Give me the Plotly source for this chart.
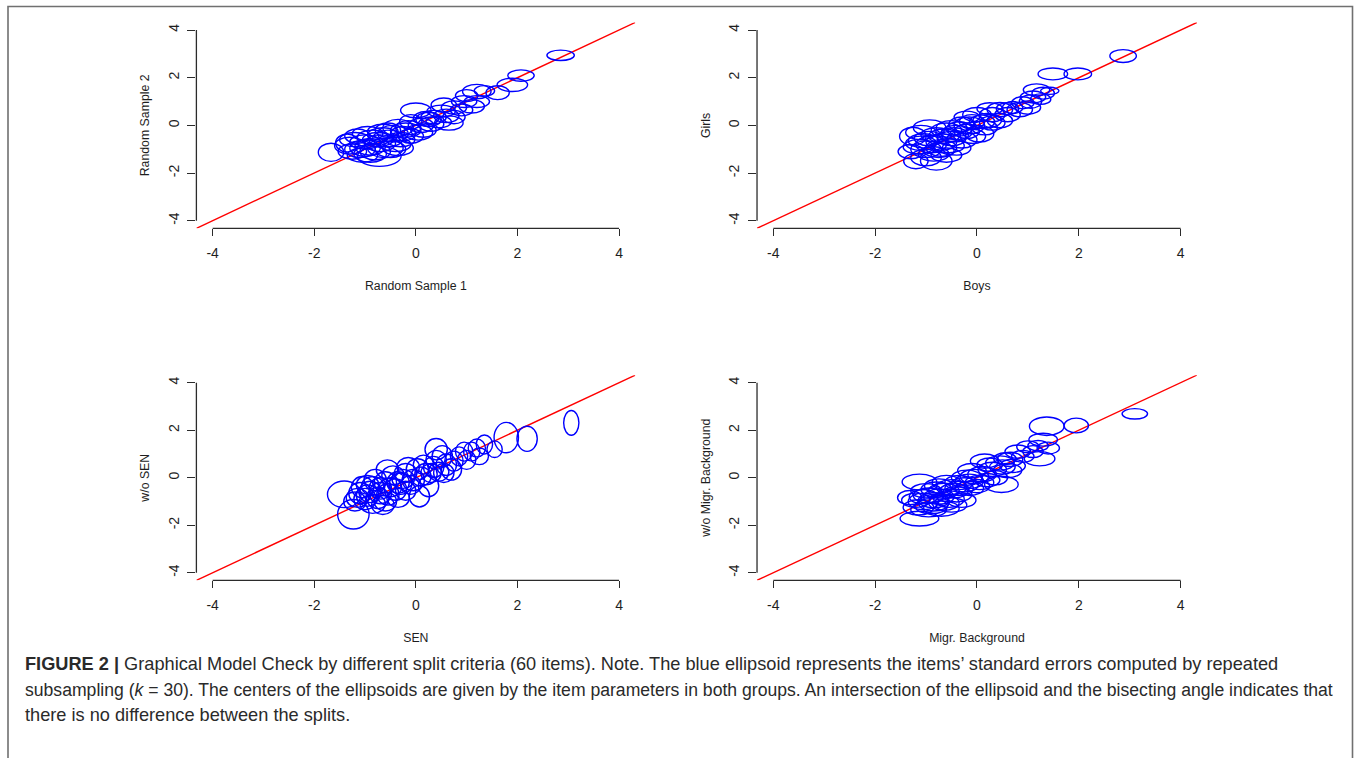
import plotly.graph_objects as go

# ---------------- data ----------------
TICKS = [-4, -2, 0, 2, 4]
AXIS_LIMITS = [-4, 4]          # xlim / ylim of every panel
X_TITLES = ["Random Sample 1", "Boys", "SEN", "Migr. Background"]
Y_TITLES = ["Random Sample 2", "Girls", "w/o SEN", "w/o Migr. Background"]

# Panel 1: Random Sample 1 vs Random Sample 2 (centre x, centre y, half-width, half-height)
P1_CX = [2.85, 2.07, 1.90, 1.61, 1.35, 1.20, 1.00, 0.95, 1.20, 0.75, 0.90, 0.55, 0.50, 0.60, 0.75,
         0.45, 0.00, 0.25, 0.10, -0.10, 0.15, -0.20, -0.35, -0.10, -0.45, -0.55, -0.30, -0.65, -0.70, -0.85,
         -0.90, -1.00, -1.10, -1.20, -1.30, -1.35, -1.67, -0.72, -1.05, -0.50, -0.40, -0.60, -0.80, -0.95, -0.25,
         0.05, 0.30, -0.75, -1.15, -0.55, -0.15, 0.35, -0.90, -1.25, -0.35, -0.65, 0.20, 1.10, -1.00, 0.65]
P1_CY = [2.94, 2.09, 1.70, 1.37, 1.45, 1.42, 1.25, 1.00, 1.00, 0.75, 0.65, 0.85, 0.60, 0.40, 0.35,
         0.15, 0.63, 0.25, 0.00, 0.15, -0.20, -0.20, -0.10, -0.45, -0.35, -0.55, -0.60, -0.25, -0.75, -0.50,
         -0.90, -0.70, -1.00, -0.60, -0.85, -0.74, -1.13, -1.30, -1.25, -1.00, -0.80, -0.95, -1.10, -0.35, -0.35,
         -0.30, 0.05, -0.60, -0.45, -0.20, -0.10, 0.35, -1.20, -1.10, -0.95, -0.40, 0.30, 0.80, -0.95, 0.10]
P1_RX = [0.27, 0.26, 0.30, 0.23, 0.20, 0.28, 0.22, 0.25, 0.25, 0.25, 0.22, 0.25, 0.28, 0.25, 0.22,
         0.25, 0.30, 0.25, 0.25, 0.22, 0.25, 0.30, 0.30, 0.25, 0.30, 0.30, 0.28, 0.30, 0.30, 0.30,
         0.30, 0.30, 0.30, 0.30, 0.30, 0.23, 0.25, 0.43, 0.30, 0.30, 0.30, 0.35, 0.30, 0.30, 0.25,
         0.28, 0.25, 0.30, 0.25, 0.25, 0.25, 0.25, 0.32, 0.28, 0.30, 0.30, 0.25, 0.25, 0.30, 0.28]
P1_RY = [0.22, 0.24, 0.28, 0.29, 0.22, 0.30, 0.25, 0.25, 0.25, 0.28, 0.25, 0.30, 0.25, 0.28, 0.28,
         0.25, 0.31, 0.30, 0.30, 0.30, 0.30, 0.30, 0.35, 0.30, 0.35, 0.35, 0.30, 0.30, 0.35, 0.30,
         0.35, 0.30, 0.35, 0.30, 0.35, 0.38, 0.38, 0.42, 0.30, 0.35, 0.30, 0.40, 0.35, 0.30, 0.30,
         0.32, 0.30, 0.30, 0.30, 0.30, 0.30, 0.28, 0.35, 0.32, 0.32, 0.30, 0.28, 0.28, 0.35, 0.30]

# Panel 2: Boys vs Girls
P2_CX = [2.87, 1.98, 1.49, 1.43, 1.17, 1.30, 1.10, 1.05, 0.90, 1.00, 0.84, 0.70, 0.45, 0.60, 0.30,
         0.45, 0.20, 0.00, -0.10, 0.15, -0.30, -0.20, 0.05, -0.08, -0.40, -0.50, -0.30, -0.60, -0.93, -1.10,
         -1.26, -0.80, -0.70, -0.90, -1.05, -1.15, -1.00, -0.75, -0.55, -0.85, -1.20, -0.80, -1.00, -0.60, -1.30,
         -0.40, -0.65, -0.20, 0.30, -0.35, -0.95, -0.50, -0.15, 0.60, 0.25, -0.70, -1.10, 1.25, -0.45, 0.10]
P2_CY = [2.91, 2.16, 2.16, 1.45, 1.49, 1.35, 1.19, 1.00, 0.95, 0.75, 0.66, 0.75, 0.66, 0.45, 0.45,
         0.20, 0.20, 0.45, 0.15, -0.10, 0.05, -0.25, -0.35, -0.46, -0.30, -0.55, -0.60, -0.20, -0.10, -0.30,
         -0.46, -0.40, -0.70, -0.80, -0.65, -0.90, -1.00, -1.05, -0.85, -1.20, -1.50, -1.50, -1.35, -1.25, -1.10,
         -0.95, -0.45, 0.35, 0.10, -0.15, -0.55, -0.10, 0.00, 0.70, 0.70, -0.95, -0.75, 1.10, -0.40, 0.15]
P2_RX = [0.26, 0.27, 0.29, 0.18, 0.26, 0.22, 0.25, 0.22, 0.22, 0.25, 0.25, 0.20, 0.25, 0.25, 0.25,
         0.25, 0.28, 0.28, 0.25, 0.25, 0.25, 0.25, 0.28, 0.25, 0.30, 0.28, 0.30, 0.30, 0.32, 0.30,
         0.26, 0.30, 0.30, 0.30, 0.30, 0.30, 0.30, 0.30, 0.30, 0.30, 0.24, 0.31, 0.30, 0.30, 0.25,
         0.28, 0.30, 0.25, 0.25, 0.25, 0.28, 0.30, 0.30, 0.22, 0.25, 0.30, 0.30, 0.20, 0.28, 0.25]
P2_RY = [0.27, 0.25, 0.25, 0.15, 0.25, 0.25, 0.25, 0.28, 0.25, 0.28, 0.30, 0.25, 0.30, 0.30, 0.30,
         0.30, 0.30, 0.30, 0.30, 0.30, 0.30, 0.30, 0.35, 0.30, 0.30, 0.30, 0.35, 0.30, 0.33, 0.30,
         0.38, 0.30, 0.35, 0.35, 0.30, 0.30, 0.35, 0.30, 0.30, 0.30, 0.32, 0.38, 0.35, 0.30, 0.30,
         0.30, 0.30, 0.25, 0.30, 0.30, 0.30, 0.30, 0.35, 0.25, 0.25, 0.35, 0.30, 0.22, 0.30, 0.28]

# Panel 3: SEN vs w/o SEN
P3_CX = [3.06, 2.19, 1.78, 1.35, 1.55, 1.25, 1.10, 0.95, 0.85, 0.70, 0.40, 0.52, 0.75, 0.60, 0.35,
         0.20, 0.03, 0.25, 0.07, -0.05, -0.20, -0.30, -0.45, -0.56, -0.40, -0.60, -0.55, -0.70, -0.80, -0.75,
         -0.90, -1.00, -0.95, -1.10, -1.20, -1.41, -1.23, -0.85, -0.60, -0.35, -0.20, -0.10, 0.10, 0.30, 0.45,
         -1.05, -0.70, -0.50, -0.25, -0.85, -1.15, -0.65, 0.15, 1.00, 1.20, 0.55, -0.15, -0.95, -0.35, 0.40]
P3_CY = [2.31, 1.64, 1.69, 1.40, 1.20, 0.90, 1.10, 1.10, 0.90, 0.35, 1.20, 0.90, 0.70, 0.55, 0.45,
         0.15, 0.35, -0.35, -0.78, -0.10, 0.20, -0.25, 0.10, 0.35, -0.50, -0.20, -0.70, -0.45, -0.10, -0.85,
         -0.60, -0.90, -0.30, -0.65, -1.00, -0.70, -1.54, -1.10, -1.00, -0.85, -0.55, -0.30, 0.05, 0.20, 0.25,
         -0.40, -0.65, -0.40, -0.05, -0.35, -0.85, -1.15, 0.55, 0.75, 1.25, 0.20, 0.45, -0.75, -0.20, 0.75]
P3_RX = [0.15, 0.20, 0.24, 0.16, 0.15, 0.18, 0.16, 0.17, 0.17, 0.20, 0.22, 0.20, 0.18, 0.20, 0.20,
         0.22, 0.22, 0.20, 0.20, 0.22, 0.22, 0.22, 0.22, 0.22, 0.22, 0.22, 0.22, 0.22, 0.22, 0.22,
         0.22, 0.22, 0.22, 0.22, 0.22, 0.33, 0.31, 0.25, 0.22, 0.22, 0.20, 0.20, 0.20, 0.20, 0.20,
         0.22, 0.22, 0.22, 0.22, 0.22, 0.22, 0.22, 0.20, 0.18, 0.17, 0.20, 0.22, 0.22, 0.22, 0.20]
P3_RY = [0.52, 0.53, 0.64, 0.40, 0.35, 0.35, 0.40, 0.40, 0.40, 0.45, 0.45, 0.45, 0.42, 0.45, 0.45,
         0.45, 0.45, 0.45, 0.45, 0.45, 0.40, 0.45, 0.40, 0.40, 0.45, 0.45, 0.45, 0.45, 0.45, 0.45,
         0.45, 0.45, 0.40, 0.45, 0.40, 0.56, 0.62, 0.40, 0.40, 0.40, 0.40, 0.40, 0.40, 0.40, 0.40,
         0.45, 0.45, 0.40, 0.40, 0.40, 0.40, 0.40, 0.40, 0.40, 0.38, 0.40, 0.40, 0.45, 0.45, 0.40]

# Panel 4: Migr. Background vs w/o Migr. Background
P4_CX = [3.10, 1.95, 1.37, 1.30, 1.40, 1.23, 1.00, 1.20, 0.80, 0.65, 0.90, 0.45, 0.48, 0.60, 0.30,
         0.15, 0.10, 0.35, 0.70, -0.10, -0.20, 0.05, -0.35, -0.15, -0.50, -0.40, -0.65, -0.55, -0.75, -0.85,
         -0.95, -1.05, -1.13, -1.32, -1.13, -0.70, -0.95, -1.15, -0.50, -0.30, -0.80, -1.00, -0.60, -0.25, -0.90,
         -1.20, -0.65, -0.45, -0.05, 0.25, 0.50, -0.75, -1.05, -0.35, 0.00, 0.20, -0.85, -0.15, 1.10, 0.55]
P4_CY = [2.69, 2.20, 2.17, 1.60, 1.25, 0.80, 1.30, 1.35, 1.10, 0.77, 0.90, 0.62, -0.28, 0.30, 0.35,
         0.70, 0.15, 0.00, 0.50, 0.30, 0.00, -0.20, -0.20, -0.45, -0.40, -0.70, -0.55, -0.90, -0.80, -1.05,
         -0.75, -1.00, -0.18, -0.84, -1.72, -1.30, -1.35, -1.25, -1.15, -0.95, -0.50, -0.55, -0.20, -0.30, -1.20,
         -0.95, -1.05, -0.55, 0.05, 0.55, 0.45, -0.35, -0.80, -0.45, -0.35, -0.10, -0.95, -0.15, 1.10, 0.80]
P4_RX = [0.25, 0.24, 0.34, 0.28, 0.22, 0.30, 0.22, 0.20, 0.25, 0.25, 0.22, 0.28, 0.33, 0.28, 0.28,
         0.28, 0.28, 0.25, 0.25, 0.28, 0.30, 0.28, 0.28, 0.28, 0.30, 0.30, 0.30, 0.30, 0.30, 0.30,
         0.30, 0.30, 0.34, 0.24, 0.38, 0.35, 0.35, 0.30, 0.30, 0.28, 0.30, 0.30, 0.28, 0.28, 0.32,
         0.28, 0.30, 0.28, 0.28, 0.25, 0.25, 0.28, 0.28, 0.28, 0.25, 0.25, 0.30, 0.28, 0.20, 0.22]
P4_RY = [0.22, 0.31, 0.39, 0.27, 0.25, 0.30, 0.25, 0.22, 0.28, 0.30, 0.25, 0.30, 0.34, 0.30, 0.30,
         0.30, 0.32, 0.30, 0.28, 0.30, 0.32, 0.30, 0.30, 0.30, 0.32, 0.32, 0.32, 0.35, 0.32, 0.35,
         0.32, 0.35, 0.33, 0.30, 0.31, 0.32, 0.30, 0.32, 0.30, 0.30, 0.32, 0.30, 0.30, 0.30, 0.32,
         0.30, 0.32, 0.30, 0.30, 0.28, 0.30, 0.30, 0.30, 0.30, 0.28, 0.28, 0.32, 0.30, 0.25, 0.25]

PANELS = [
    (P1_CX, P1_CY, P1_RX, P1_RY),
    (P2_CX, P2_CY, P2_RX, P2_RY),
    (P3_CX, P3_CY, P3_RX, P3_RY),
    (P4_CX, P4_CY, P4_RX, P4_RY),
]

CAPTION_LINES = [
    "<b>FIGURE 2 |</b> Graphical Model Check by different split criteria (60 items). Note. The blue ellipsoid represents the items\u2019 standard errors computed by repeated",
    "subsampling (<i>k</i> = 30). The centers of the ellipsoids are given by the item parameters in both groups. An intersection of the ellipsoid and the bisecting angle indicates that",
    "there is no difference between the splits.",
]
CAPTION_SIZES = [18.2, 17.6, 18.2]

# ---------------- layout constants ----------------
W, H = 1354, 758
FONT = "Liberation Sans, Arial, sans-serif"
AX_COLOR = "#2b2b2b"
TXT_COLOR = "#1e1e1e"
# R-style axis range: limits extended by 4 % on each side
pad = 0.04 * (AXIS_LIMITS[1] - AXIS_LIMITS[0])
RANGE = [AXIS_LIMITS[0] - pad, AXIS_LIMITS[1] + pad]

X_DOMAINS = [[0.14505, 0.46920], [0.55910, 0.88400]]
Y_DOMAINS = [[0.69880, 0.97040], [0.23440, 0.50510]]

fig = go.Figure()
layout = dict(
    width=W, height=H,
    margin=dict(l=0, r=0, t=0, b=0),
    paper_bgcolor="white", plot_bgcolor="white",
    showlegend=False,
    font=dict(family=FONT, color=TXT_COLOR),
)

shapes = []
for i, (cx, cy, rx, ry) in enumerate(PANELS):
    n = i + 1
    xa = "x" if n == 1 else f"x{n}"
    ya = "y" if n == 1 else f"y{n}"
    xkey = "xaxis" if n == 1 else f"xaxis{n}"
    ykey = "yaxis" if n == 1 else f"yaxis{n}"
    col, row = i % 2, i // 2
    common = dict(range=RANGE, showgrid=False, zeroline=False, showline=False,
                  tickvals=TICKS, ticktext=[str(t) for t in TICKS], ticks="outside",
                  tickwidth=1.3, tickcolor=AX_COLOR, fixedrange=True,
                  tickfont=dict(family=FONT, size=14, color=TXT_COLOR))
    layout[xkey] = dict(common, domain=X_DOMAINS[col], anchor=ya, ticklen=7,
                        ticklabelstandoff=5,
                        title=dict(text=X_TITLES[i], standoff=21,
                                   font=dict(family=FONT, size=12.3, color=TXT_COLOR)))
    layout[ykey] = dict(common, domain=Y_DOMAINS[row], anchor=xa, ticklen=8,
                        tickangle=-90, ticklabelstandoff=3,
                        title=dict(text=Y_TITLES[i], standoff=13,
                                   font=dict(family=FONT, size=12.3, color=TXT_COLOR)))

    # bisecting line y = x across the whole plot region
    fig.add_trace(go.Scatter(x=RANGE, y=RANGE, mode="lines", xaxis=xa, yaxis=ya,
                             line=dict(color="#ff0000", width=1.4), hoverinfo="skip"))

    # R-style axis lines spanning only first to last tick
    shapes.append(dict(type="line", xref=xa, yref=f"{ya} domain", x0=TICKS[0], x1=TICKS[-1],
                       y0=0, y1=0, line=dict(color=AX_COLOR, width=1.3)))
    shapes.append(dict(type="line", xref=f"{xa} domain", yref=ya, x0=0, x1=0,
                       y0=TICKS[0], y1=TICKS[-1], line=dict(color=AX_COLOR, width=1.3)))

    # standard-error ellipses
    for x, y, a, b in zip(cx, cy, rx, ry):
        shapes.append(dict(type="circle", xref=xa, yref=ya,
                           x0=x - a, x1=x + a, y0=y - b, y1=y + b,
                           line=dict(color="#0000ff", width=1.4), layer="above"))

# outer figure frame (open at the bottom edge of the picture)
shapes.append(dict(type="rect", xref="paper", yref="paper",
                   x0=8 / W, x1=1352.5 / W, y0=-0.02, y1=1 - 6.5 / H,
                   line=dict(color="#707070", width=1.6)))

annotations = []
for k, (line, size) in enumerate(zip(CAPTION_LINES, CAPTION_SIZES)):
    yc = 664 + k * 25.7
    annotations.append(dict(text=line, xref="paper", yref="paper", x=23 / W, y=1 - yc / H,
                            xanchor="left", yanchor="middle", showarrow=False, align="left",
                            font=dict(family=FONT, size=size, color="#2a2a2a")))

layout["shapes"] = shapes
layout["annotations"] = annotations
fig.update_layout(**layout)
fig.write_html("out.html", config={"displayModeBar": False},
               post_script="document.body.style.margin='0';document.body.style.overflow='hidden';")
